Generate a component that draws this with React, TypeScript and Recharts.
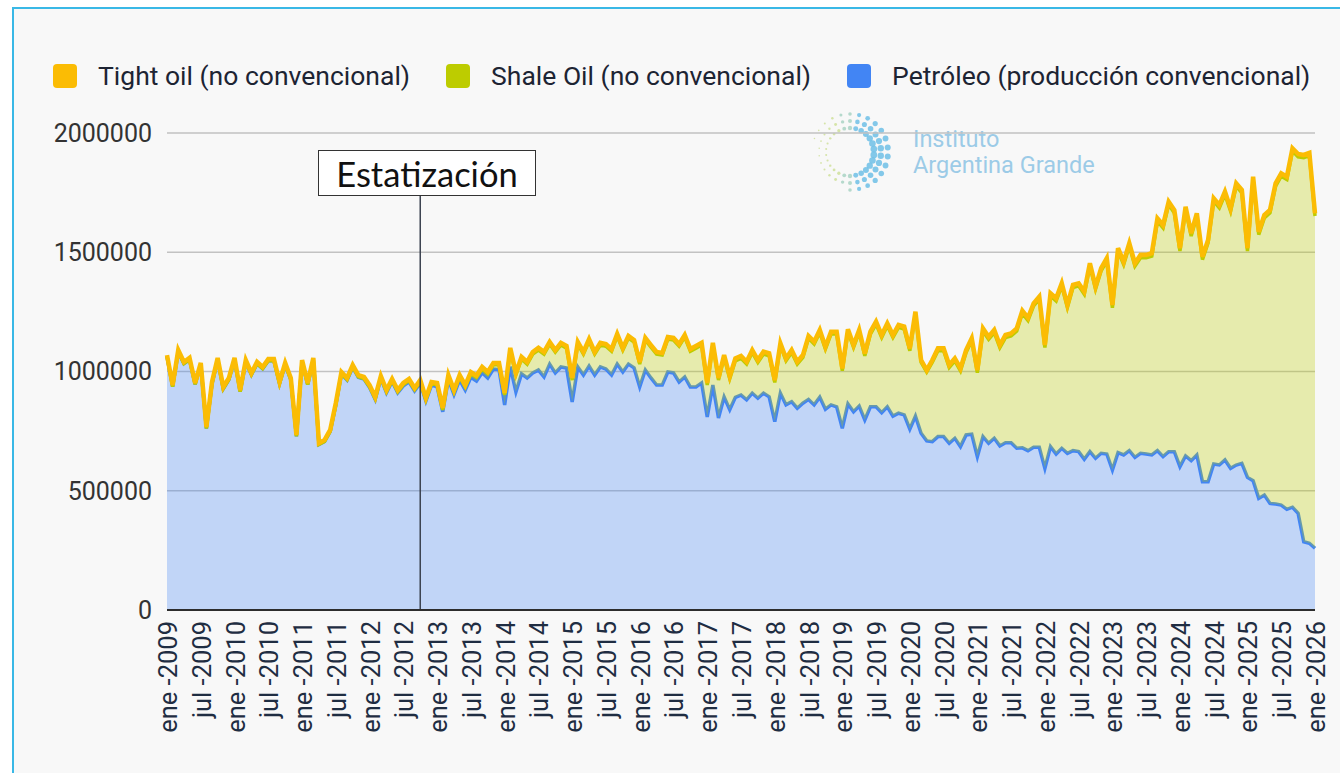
import React from "react";
import { Area, AreaChart, CartesianGrid, Legend, ReferenceLine, XAxis, YAxis } from "recharts";

// monthly production, ene-2009 .. ene-2026
const MONTHS = ["ene", "feb", "mar", "abr", "may", "jun", "jul", "ago", "sep", "oct", "nov", "dic"];
const FIRST_YEAR = 2009;

const conventional = [
  1062000, 936000, 1083000, 1033000, 1050000, 946000, 1029000, 761000, 949000, 1050000, 928000, 966000,
  1050000, 915000, 1041000, 987000, 1033000, 1012000, 1045000, 1045000, 949000, 1029000, 966000, 728000,
  1041000, 945000, 1050000, 694000, 707000, 749000, 860000, 990000, 964000, 1018000, 976000, 968000,
  933000, 883000, 971000, 911000, 958000, 911000, 940000, 957000, 919000, 951000, 876000, 943000,
  936000, 831000, 967000, 903000, 965000, 922000, 976000, 960000, 995000, 973000, 1010000, 1008000,
  860000, 1020000, 914000, 990000, 973000, 994000, 1006000, 977000, 1031000, 994000, 1019000, 1015000,
  872000, 1019000, 985000, 1023000, 985000, 1019000, 1010000, 985000, 1031000, 998000, 1031000, 1015000,
  935000, 1006000, 973000, 943000, 943000, 998000, 994000, 956000, 977000, 935000, 935000, 952000,
  809000, 943000, 805000, 893000, 840000, 892000, 901000, 881000, 909000, 888000, 909000, 894000,
  790000, 909000, 860000, 873000, 846000, 867000, 883000, 860000, 892000, 842000, 860000, 852000,
  762000, 864000, 831000, 855000, 797000, 852000, 852000, 827000, 852000, 813000, 825000, 818000,
  758000, 813000, 741000, 709000, 706000, 727000, 727000, 699000, 720000, 685000, 734000, 737000,
  643000, 727000, 699000, 720000, 688000, 701000, 701000, 678000, 680000, 668000, 682000, 682000,
  594000, 685000, 654000, 678000, 657000, 668000, 664000, 632000, 664000, 636000, 657000, 654000,
  587000, 660000, 650000, 668000, 640000, 657000, 654000, 650000, 668000, 643000, 664000, 664000,
  601000, 646000, 626000, 650000, 538000, 538000, 612000, 608000, 629000, 594000, 608000, 615000,
  556000, 542000, 468000, 482000, 447000, 444000, 440000, 422000, 431000, 405000, 286000, 280000,
  259000
];

const shale = [
  0, 0, 0, 0, 0, 0, 0, 0, 0, 0, 0, 0,
  0, 0, 0, 0, 0, 0, 0, 0, 0, 0, 0, 0,
  0, 0, 0, 0, 0, 0, 1000, 1000, 2000, 2000, 2000, 2000,
  3000, 3000, 3000, 4000, 4000, 4000, 5000, 5000, 5000, 6000, 6000, 6000,
  8000, 8000, 10000, 11000, 12000, 13000, 14000, 15000, 16000, 17000, 18000, 20000,
  42000, 71000, 72000, 63000, 58000, 79000, 84000, 96000, 84000, 87000, 92000, 83000,
  92000, 96000, 88000, 104000, 88000, 92000, 96000, 100000, 117000, 92000, 109000, 108000,
  96000, 126000, 129000, 130000, 126000, 138000, 138000, 150000, 167000, 150000, 163000, 159000,
  134000, 168000, 159000, 166000, 130000, 153000, 154000, 150000, 171000, 150000, 164000, 172000,
  164000, 199000, 185000, 207000, 185000, 192000, 256000, 255000, 272000, 252000, 297000, 305000,
  241000, 303000, 270000, 309000, 269000, 305000, 347000, 316000, 340000, 330000, 360000, 360000,
  329000, 428000, 298000, 289000, 333000, 360000, 360000, 318000, 325000, 318000, 346000, 392000,
  352000, 443000, 436000, 443000, 412000, 441000, 448000, 492000, 564000, 546000, 593000, 621000,
  506000, 632000, 642000, 681000, 611000, 684000, 695000, 692000, 779000, 709000, 765000, 810000,
  680000, 845000, 798000, 858000, 802000, 820000, 823000, 834000, 962000, 959000, 1036000, 1001000,
  904000, 1033000, 942000, 1001000, 931000, 1001000, 1102000, 1078000, 1113000, 1078000, 1169000, 1134000,
  949000, 1263000, 1106000, 1162000, 1218000, 1333000, 1379000, 1383000, 1493000, 1495000, 1610000, 1625000,
  1393000
];

const tight = [
  7000, 7000, 7000, 7000, 7000, 6000, 7000, 6000, 7000, 7000, 7000, 7000,
  7000, 7000, 7000, 7000, 7000, 7000, 7000, 7000, 7000, 7000, 7000, 6000,
  7000, 7000, 7000, 6000, 6000, 6000, 7000, 7000, 7000, 7000, 7000, 7000,
  7000, 7000, 7000, 7000, 7000, 7000, 7000, 7000, 7000, 7000, 7000, 7000,
  8000, 8000, 8000, 8000, 8000, 8000, 8000, 8000, 8000, 8000, 8000, 8000,
  8000, 8000, 8000, 8000, 9000, 9000, 9000, 9000, 9000, 9000, 9000, 9000,
  9000, 9000, 9000, 9000, 9000, 9000, 9000, 9000, 9000, 9000, 9000, 9000,
  9000, 9000, 9000, 9000, 9000, 9000, 9000, 9000, 9000, 9000, 9000, 9000,
  9000, 9000, 9000, 10000, 10000, 10000, 10000, 10000, 10000, 10000, 10000, 10000,
  10000, 10000, 10000, 10000, 10000, 10000, 10000, 10000, 10000, 10000, 10000, 10000,
  10000, 10000, 10000, 10000, 10000, 10000, 10000, 10000, 10000, 10000, 10000, 10000,
  10000, 10000, 9000, 8000, 9000, 10000, 10000, 10000, 10000, 10000, 10000, 10000,
  11000, 11000, 11000, 11000, 11000, 11000, 11000, 11000, 11000, 11000, 11000, 11000,
  11000, 11000, 11000, 11000, 11000, 11000, 11000, 11000, 11000, 11000, 11000, 11000,
  12000, 12000, 12000, 12000, 12000, 12000, 12000, 12000, 12000, 12000, 12000, 12000,
  12000, 12000, 12000, 12000, 12000, 12000, 12000, 12000, 12000, 12000, 12000, 12000,
  12000, 12000, 12000, 12000, 12000, 12000, 12000, 12000, 12000, 12000, 12000, 12000,
  11000
];

const yTicks = [0, 500000, 1000000, 1500000, 2000000];
const ANNOTATION_MONTH = 45; // oct -2012
const ANNOTATION_TOP = 1736000;

const SERIES = [
  { key: "tight", label: "Tight oil (no convencional)", color: "#FBBC04" },
  { key: "shale", label: "Shale Oil (no convencional)", color: "#BDCC00" },
  { key: "conv", label: "Petróleo (producción convencional)", color: "#4285F4" }
];

const labels = conventional.map((_, i) => `${MONTHS[i % 12]} -${FIRST_YEAR + Math.floor(i / 12)}`);
const data = labels.map((label, i) => ({
  label,
  conv: conventional[i],
  shale: shale[i],
  tight: tight[i]
}));

function MonthTick({ x, y, payload }: any) {
  const ty = y + 3;
  return (
    <text
      x={x + 1}
      y={ty}
      transform={`rotate(-90, ${x + 1}, ${ty})`}
      textAnchor="end"
      dominantBaseline="central"
      fontSize={25.5}
      fontFamily="Roboto"
      fill="#1f2d42"
    >
      {payload.value}
    </text>
  );
}

function LegendContent() {
  return (
    <div
      style={{
        display: "flex",
        alignItems: "center",
        whiteSpace: "nowrap",
        fontFamily: "Roboto",
        fontSize: 26.5,
        color: "#1d2433"
      }}
    >
      {SERIES.map((s) => (
        <div key={s.key} style={{ display: "flex", alignItems: "center", flexShrink: 0, marginRight: 36 }}>
          <span
            style={{ width: 24, height: 24, borderRadius: 4, background: s.color, marginRight: 21, display: "inline-block", flexShrink: 0 }}
          />
          <span>{s.label}</span>
        </div>
      ))}
    </div>
  );
}

function LogoDots() {
  const dots = [];
  const rings = [24, 31, 38];
  for (let r = 0; r < rings.length; r++) {
    for (let a = 0; a < 26; a++) {
      const ang = (a / 26) * Math.PI * 2 - Math.PI / 2;
      const side = (Math.cos(ang) + 1) / 2;
      if (r === 2 && ang > Math.PI * 0.55 && ang < Math.PI * 1.1) continue;
      const rad = 1 + side * 2.4 - r * 0.2;
      const cx = 40 + rings[r] * Math.cos(ang);
      const cy = 44 + rings[r] * Math.sin(ang);
      const color = side > 0.55 ? "#6fbfe6" : side > 0.3 ? "#a9d3c4" : "#cfe09a";
      dots.push(<circle key={`${r}-${a}`} cx={cx} cy={cy} r={Math.max(rad, 0.8)} fill={color} opacity={0.85} />);
    }
  }
  return (
    <svg width={90} height={92} style={{ position: "absolute", left: 810, top: 108 }}>
      {dots}
    </svg>
  );
}

export default function App() {
  return (
    <div style={{ position: "relative", width: 1340, height: 773, background: "#ffffff", overflow: "hidden", fontFamily: "Roboto" }}>
      <style>{"body{margin:0}"}</style>
      <div
        style={{
          position: "absolute",
          left: 12,
          top: 7,
          width: 1340,
          height: 780,
          background: "#f8f8f8",
          borderLeft: "2px solid #39b8e6",
          borderTop: "2px solid #39b8e6"
        }}
      />
      <LogoDots />
      <div style={{ position: "absolute", left: 913, top: 126, color: "#9ccbe7", fontSize: 23.5, lineHeight: "26px", fontFamily: "Roboto" }}>
        <div>Instituto</div>
        <div>Argentina Grande</div>
      </div>
      <div style={{ position: "absolute", left: 0, top: 0 }}>
        <AreaChart width={1340} height={773} data={data} margin={{ top: 133, right: 25, bottom: 23, left: 17 }}>
          <CartesianGrid vertical={false} stroke="#c2c2c2" strokeWidth={1.5} />
          <XAxis
            dataKey="label"
            interval={5}
            tickLine={false}
            axisLine={{ stroke: "#2d2d2d", strokeWidth: 2 }}
            height={140}
            tick={(props: any) => <MonthTick {...props} />}
          />
          <YAxis
            domain={[0, 2000000]}
            ticks={yTicks}
            interval={0}
            width={150}
            tickLine={false}
            axisLine={false}
            tickMargin={9}
            tick={{ fontSize: 25, fill: "#333", fontFamily: "Roboto" }}
          />
          <Legend
            verticalAlign="middle"
            align="center"
            content={() => <LegendContent />}
            wrapperStyle={{ top: 60, left: 53, width: 1290, height: 30 }}
          />
          <Area
            type="linear"
            dataKey="conv"
            stackId="oil"
            name="Petróleo (producción convencional)"
            stroke="#4285F4"
            strokeWidth={3.5}
            fill="#4285F4"
            fillOpacity={0.3}
            dot={false}
            activeDot={false}
            isAnimationActive={false}
          />
          <Area
            type="linear"
            dataKey="shale"
            stackId="oil"
            name="Shale Oil (no convencional)"
            stroke="#BDCC00"
            strokeWidth={3.5}
            fill="#BDCC00"
            fillOpacity={0.3}
            dot={false}
            activeDot={false}
            isAnimationActive={false}
          />
          <Area
            type="linear"
            dataKey="tight"
            stackId="oil"
            name="Tight oil (no convencional)"
            stroke="#FBBC04"
            strokeWidth={4.5}
            fill="#FBBC04"
            fillOpacity={0.3}
            dot={false}
            activeDot={false}
            isAnimationActive={false}
          />
          <ReferenceLine
            segment={[
              { x: labels[ANNOTATION_MONTH], y: 0 },
              { x: labels[ANNOTATION_MONTH], y: ANNOTATION_TOP }
            ]}
            stroke="#3b4250"
            strokeWidth={1.5}
          />
        </AreaChart>
      </div>
      <div
        style={{
          position: "absolute",
          left: 318,
          top: 150,
          width: 216,
          height: 44,
          border: "1.5px solid #333",
          background: "#ffffff",
          fontFamily: "Lato",
          fontSize: 34.5,
          color: "#111",
          display: "flex",
          alignItems: "center",
          justifyContent: "center"
        }}
      >
        Estatización
      </div>
    </div>
  );
}
